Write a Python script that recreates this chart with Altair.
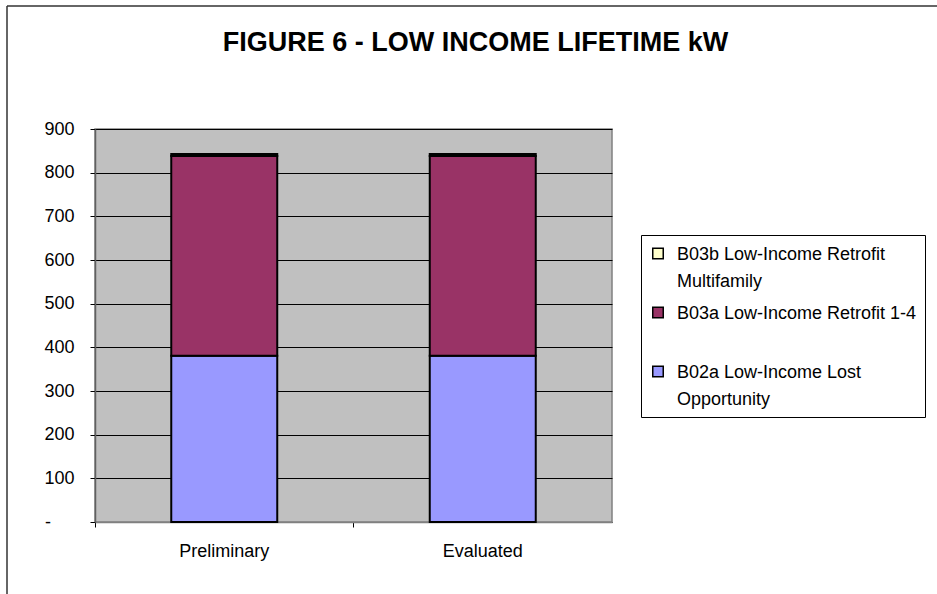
import altair as alt
import pandas as pd

# Lifetime kW by program, stacked per estimate
categories = ["Preliminary", "Evaluated"]
series = [
    "B02a Low-Income Lost Opportunity",
    "B03a Low-Income Retrofit 1-4",
    "B03b Low-Income Retrofit Multifamily",
]
b02a = [381, 381]
b03a = [457, 457]
b03b = [5, 5]

legend_order = [series[2], series[1], series[0]]
legend_colors = ["#FFFFCC", "#993366", "#9999FF"]
y_ticks = [0, 100, 200, 300, 400, 500, 600, 700, 800, 900]

# wrapped legend lines for each series
label_lines = {
    series[2]: ["B03b Low-Income Retrofit", "Multifamily"],
    series[1]: ["B03a Low-Income Retrofit 1-4", " "],
    series[0]: ["B02a Low-Income Lost", "Opportunity"],
}

rows = []
for i, cat in enumerate(categories):
    for k, (name, vals) in enumerate(zip(series, [b02a, b03a, b03b])):
        rows.append({"category": cat, "series": name, "kW": vals[i], "stack": k})
df = pd.DataFrame(rows)

label_expr = ""
for name, lines in label_lines.items():
    arr = "[" + ", ".join("'" + s + "'" for s in lines) + "]"
    label_expr += f"datum.label == '{name}' ? {arr} : "
label_expr += "datum.label"

# accounting-style zero: a dash set in from the right edge
# (zero-width space at the end keeps the padding from being trimmed)
zero_label = "-" + "\u00a0" * 4 + "\u2009" + "\u200b"
FONT = "Liberation Sans"

bars = alt.Chart(df).mark_bar(stroke="black", strokeWidth=2, size=106).encode(
    x=alt.X(
        "category:N",
        sort=categories,
        scale=alt.Scale(paddingInner=0, paddingOuter=0),
        axis=alt.Axis(
            title=None,
            labelAngle=0,
            bandPosition=0,
            tickSize=5,
            tickColor="black",
            domainColor="#808080",
            domainWidth=1.5,
            labelPadding=15,
            labelFontSize=18,
            labelFont=FONT,
            labelColor="black",
        ),
    ),
    y=alt.Y(
        "kW:Q",
        stack="zero",
        scale=alt.Scale(domain=[0, 900], nice=False),
        axis=alt.Axis(
            title=None,
            values=y_ticks,
            grid=True,
            gridColor="black",
            gridWidth=1,
            tickSize=5,
            tickColor="black",
            domainColor="#606060",
            domainWidth=1.5,
            labelPadding=16,
            labelFontSize=18,
            labelFont=FONT,
            labelColor="black",
            labelExpr=f"datum.value == 0 ? '{zero_label}' : datum.label",
        ),
    ),
    color=alt.Color(
        "series:N",
        scale=alt.Scale(domain=legend_order, range=legend_colors),
        legend=alt.Legend(
            title=" ",
            titleFontSize=2,
            titlePadding=6,
            orient="none",
            legendX=546,
            legendY=106,
            labelExpr=label_expr,
            labelFontSize=18,
            labelFont=FONT,
            labelColor="black",
            labelLimit=500,
            labelBaseline="alphabetic",
            labelOffset=10,
            symbolType="M-1,-2.22H1V-0.22H-1Z",
            symbolSize=110,
            symbolStrokeColor="black",
            symbolStrokeWidth=1.5,
            symbolOpacity=1,
            strokeColor="black",
            fillColor="white",
            padding=8,
            rowPadding=13,
        ),
    ),
    order=alt.Order("stack:Q", sort="ascending"),
)

# outer chart frame
frame_data = alt.Data(values=[{}])
frame_left = alt.Chart(frame_data).mark_rule(color="#333333", strokeWidth=1.5).encode(
    x=alt.value(-88), y=alt.value(-123), y2=alt.value(480)
)
frame_top = alt.Chart(frame_data).mark_rule(color="#333333", strokeWidth=1.5).encode(
    x=alt.value(-88), x2=alt.value(900), y=alt.value(-123)
)

chart = alt.layer(bars, frame_left, frame_top).properties(
    width=517,
    height=393,
    autosize=alt.AutoSizeParams(type="none"),
    padding={"left": 95, "top": 129, "right": 325, "bottom": 72},
    title=alt.Title(
        "FIGURE 6 - LOW INCOME LIFETIME kW",
        fontSize=27,
        font=FONT,
        fontWeight="bold",
        color="black",
        anchor="middle",
        frame="group",
        dx=122,
        offset=0,
        dy=52,
    ),
).configure(
    background="white",
    style={"guide-label": {"lineHeight": 27}},
).configure_view(
    fill="#C0C0C0", stroke="#808080", strokeWidth=1.5
)

chart.save("out.html", embed_options={"renderer": "svg", "actions": False})
